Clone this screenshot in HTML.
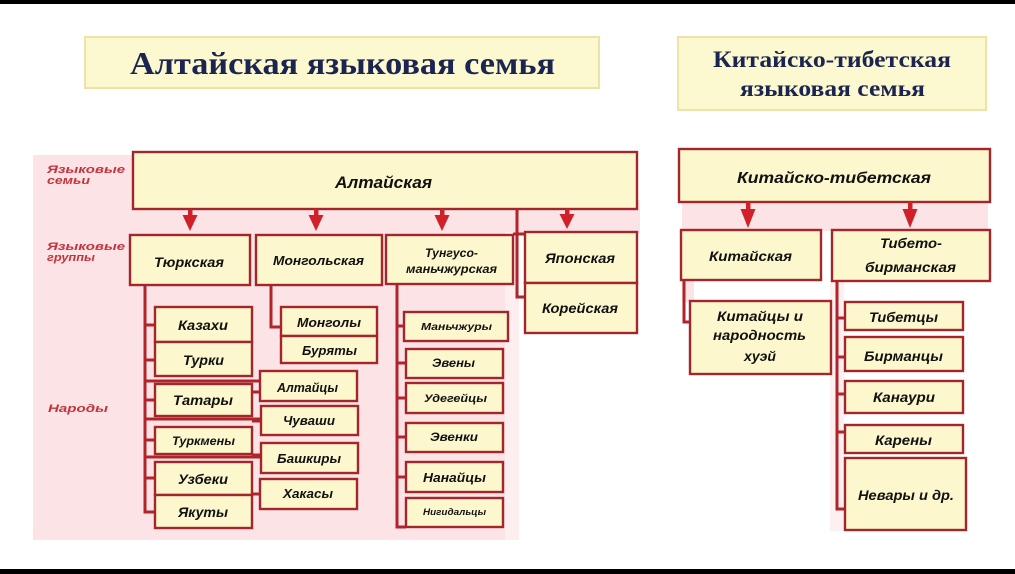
<!DOCTYPE html>
<html><head><meta charset="utf-8"><style>
html,body{margin:0;padding:0;background:#fff;}
svg{display:block;}
.n{font-family:"Liberation Sans",sans-serif;font-weight:bold;font-style:italic;fill:#111;}
.r{font-family:"Liberation Sans",sans-serif;font-weight:bold;font-style:italic;fill:#c4343d;font-size:11px;}
.t{font-family:"Liberation Serif",serif;font-weight:bold;fill:#1b2550;}
.b{fill:#fcf7cd;stroke:#a2262b;stroke-width:2.4;}
.l{stroke:#b0242a;stroke-width:3;fill:none;}
</style></head><body>
<svg width="1015" height="574" viewBox="0 0 1015 574" xmlns="http://www.w3.org/2000/svg">
<rect x="0" y="0" width="1015" height="574" fill="#fff"/>
<rect x="0" y="0" width="1015" height="4" fill="#000"/>
<rect x="0" y="569" width="1015" height="5" fill="#000"/>

<!-- titles -->
<rect x="85" y="37" width="514" height="51" fill="#fcf8cf" stroke="#ece3a4" stroke-width="2"/>
<text class="t" x="130" y="74" font-size="32" textLength="425" lengthAdjust="spacingAndGlyphs">Алтайская языковая семья</text>
<rect x="678" y="37" width="308" height="73" fill="#fcf8cf" stroke="#ece3a4" stroke-width="2"/>
<text class="t" x="713" y="67" font-size="23" textLength="238" lengthAdjust="spacingAndGlyphs">Китайско-тибетская</text>
<text class="t" x="740" y="96" font-size="23" textLength="185" lengthAdjust="spacingAndGlyphs">языковая семья</text>

<!-- pink backgrounds -->
<rect x="33" y="155" width="477" height="385" fill="#fbe3e6"/>
<rect x="505" y="200" width="135" height="33" fill="#fbe3e6"/>
<rect x="505" y="232" width="14" height="308" fill="#fdeef0"/>
<rect x="682" y="200" width="306" height="31" fill="#fbe3e6"/>
<rect x="682" y="280" width="12" height="22" fill="#fbe3e6"/>
<rect x="830" y="281" width="14" height="250" fill="#fdf0f1"/>

<!-- left labels -->
<text class="r" x="47" y="173" textLength="78" lengthAdjust="spacingAndGlyphs">Языковые</text>
<text class="r" x="47" y="184" textLength="43" lengthAdjust="spacingAndGlyphs">семьи</text>
<text class="r" x="47" y="250" textLength="78" lengthAdjust="spacingAndGlyphs">Языковые</text>
<text class="r" x="47" y="261" textLength="48" lengthAdjust="spacingAndGlyphs">группы</text>
<text class="r" x="48" y="412" textLength="60" lengthAdjust="spacingAndGlyphs">Народы</text>

<!-- connectors left -->
<path class="l" d="M145 285 V512 H155"/>
<path class="l" d="M145 325 H155 M145 360 H155 M145 400 H155 M145 440 H155 M145 478 H155"/>
<path class="l" d="M145 381 H260 M145 419 H261 M145 457 H261"/>
<path class="l" d="M252 392 H260 M252 421 H261 M252 455 H261 M252 494 H260"/>
<path class="l" d="M271 285 V327 H281"/>
<path class="l" d="M397 285 V527 H406"/>
<path class="l" d="M397 326 H404 M397 363 H406 M397 398 H406 M397 437 H406 M397 477 H406"/>
<path class="l" d="M517 209 V297 H525 M513 234 H525" stroke-width="3.5"/>

<!-- connectors right -->
<path class="l" d="M684 280 V322 H690"/>
<path class="l" d="M837 281 V509 H845 M837 318 H845 M837 357 H845 M837 394 H845 M837 432 H845"/>

<!-- big boxes -->
<rect class="b" x="133" y="152" width="504" height="57"/>
<text class="n" x="335" y="188" font-size="17" textLength="97" lengthAdjust="spacingAndGlyphs">Алтайская</text>
<rect class="b" x="679" y="149" width="311" height="53"/>
<text class="n" x="737" y="183" font-size="16" textLength="194" lengthAdjust="spacingAndGlyphs">Китайско-тибетская</text>

<!-- arrows -->
<g fill="#d0212a">
<rect x="188" y="209" width="4.5" height="8"/><polygon points="182.5,215 197.5,215 190,231"/>
<rect x="314" y="209" width="4.5" height="8"/><polygon points="308.5,215 323.5,215 316,231"/>
<rect x="440" y="209" width="4.5" height="8"/><polygon points="434.5,215 449.5,215 442,231"/>
<rect x="565" y="209" width="4.5" height="8"/><polygon points="559.5,214 574.5,214 567,229"/>
<rect x="746" y="202" width="4.5" height="9"/><polygon points="740.5,209 755.5,209 748,228"/>
<rect x="908" y="202" width="4.5" height="9"/><polygon points="902.5,209 917.5,209 910,228"/>
</g>

<!-- group boxes -->
<rect class="b" x="130" y="235" width="120" height="50"/>
<text class="n" x="154" y="267" font-size="14" textLength="70" lengthAdjust="spacingAndGlyphs">Тюркская</text>
<rect class="b" x="256" y="235" width="126" height="50"/>
<text class="n" x="273" y="265" font-size="13" textLength="91" lengthAdjust="spacingAndGlyphs">Монгольская</text>
<rect class="b" x="386" y="235" width="127" height="49"/>
<text class="n" x="425" y="257" font-size="12" textLength="53" lengthAdjust="spacingAndGlyphs">Тунгусо-</text>
<text class="n" x="406" y="273" font-size="12" textLength="91" lengthAdjust="spacingAndGlyphs">маньчжурская</text>
<rect class="b" x="525" y="232" width="112" height="51"/>
<text class="n" x="545" y="263" font-size="14" textLength="70" lengthAdjust="spacingAndGlyphs">Японская</text>
<rect class="b" x="525" y="283" width="112" height="50"/>
<text class="n" x="542" y="313" font-size="14" textLength="76" lengthAdjust="spacingAndGlyphs">Корейская</text>
<rect class="b" x="681" y="230" width="140" height="50"/>
<text class="n" x="709" y="261" font-size="14" textLength="83" lengthAdjust="spacingAndGlyphs">Китайская</text>
<rect class="b" x="832" y="230" width="158" height="51"/>
<text class="n" x="880" y="248" font-size="14" textLength="62" lengthAdjust="spacingAndGlyphs">Тибето-</text>
<text class="n" x="865" y="272" font-size="14" textLength="91" lengthAdjust="spacingAndGlyphs">бирманская</text>

<!-- Turkic peoples -->
<rect class="b" x="155" y="307" width="97" height="35"/>
<text class="n" x="178" y="330" font-size="14" textLength="50" lengthAdjust="spacingAndGlyphs">Казахи</text>
<rect class="b" x="155" y="342" width="97" height="34"/>
<text class="n" x="183" y="365" font-size="14" textLength="41" lengthAdjust="spacingAndGlyphs">Турки</text>
<rect class="b" x="155" y="384" width="97" height="32"/>
<text class="n" x="173" y="405" font-size="14" textLength="60" lengthAdjust="spacingAndGlyphs">Татары</text>
<rect class="b" x="155" y="427" width="97" height="27"/>
<text class="n" x="172" y="445" font-size="12" textLength="63" lengthAdjust="spacingAndGlyphs">Туркмены</text>
<rect class="b" x="155" y="462" width="97" height="33"/>
<text class="n" x="178" y="484" font-size="14" textLength="50" lengthAdjust="spacingAndGlyphs">Узбеки</text>
<rect class="b" x="155" y="495" width="97" height="33"/>
<text class="n" x="178" y="517" font-size="14" textLength="50" lengthAdjust="spacingAndGlyphs">Якуты</text>

<rect class="b" x="260" y="371" width="97" height="30"/>
<text class="n" x="277" y="392" font-size="13" textLength="61" lengthAdjust="spacingAndGlyphs">Алтайцы</text>
<rect class="b" x="261" y="406" width="97" height="29"/>
<text class="n" x="283" y="425" font-size="13" textLength="52" lengthAdjust="spacingAndGlyphs">Чуваши</text>
<rect class="b" x="261" y="443" width="97" height="30"/>
<text class="n" x="277" y="463" font-size="13" textLength="64" lengthAdjust="spacingAndGlyphs">Башкиры</text>
<rect class="b" x="260" y="479" width="97" height="30"/>
<text class="n" x="283" y="498" font-size="13" textLength="50" lengthAdjust="spacingAndGlyphs">Хакасы</text>

<!-- Mongol peoples -->
<rect class="b" x="281" y="307" width="96" height="29"/>
<text class="n" x="297" y="327" font-size="13" textLength="64" lengthAdjust="spacingAndGlyphs">Монголы</text>
<rect class="b" x="281" y="336" width="96" height="27"/>
<text class="n" x="302" y="355" font-size="13" textLength="55" lengthAdjust="spacingAndGlyphs">Буряты</text>

<!-- Tungus peoples -->
<rect class="b" x="404" y="312" width="104" height="29"/>
<text class="n" x="421" y="330" font-size="10" textLength="71" lengthAdjust="spacingAndGlyphs">Маньчжуры</text>
<rect class="b" x="406" y="349" width="97" height="29"/>
<text class="n" x="432" y="367" font-size="12" textLength="43" lengthAdjust="spacingAndGlyphs">Эвены</text>
<rect class="b" x="406" y="383" width="97" height="30"/>
<text class="n" x="424" y="402" font-size="11" textLength="63" lengthAdjust="spacingAndGlyphs">Удегейцы</text>
<rect class="b" x="406" y="423" width="97" height="29"/>
<text class="n" x="430" y="441" font-size="12" textLength="48" lengthAdjust="spacingAndGlyphs">Эвенки</text>
<rect class="b" x="406" y="462" width="97" height="30"/>
<text class="n" x="423" y="482" font-size="13" textLength="63" lengthAdjust="spacingAndGlyphs">Нанайцы</text>
<rect class="b" x="406" y="498" width="97" height="29"/>
<text class="n" x="423" y="515" font-size="9" textLength="63" lengthAdjust="spacingAndGlyphs">Нигидальцы</text>

<!-- Chinese -->
<rect class="b" x="690" y="301" width="141" height="73"/>
<text class="n" x="717" y="321" font-size="14" textLength="86" lengthAdjust="spacingAndGlyphs">Китайцы и</text>
<text class="n" x="713" y="340" font-size="14" textLength="93" lengthAdjust="spacingAndGlyphs">народность</text>
<text class="n" x="744" y="361" font-size="14" textLength="32" lengthAdjust="spacingAndGlyphs">хуэй</text>

<!-- Tibeto-Burman peoples -->
<rect class="b" x="845" y="302" width="118" height="28"/>
<text class="n" x="869" y="322" font-size="14" textLength="69" lengthAdjust="spacingAndGlyphs">Тибетцы</text>
<rect class="b" x="845" y="337" width="118" height="34"/>
<text class="n" x="864" y="361" font-size="14" textLength="79" lengthAdjust="spacingAndGlyphs">Бирманцы</text>
<rect class="b" x="845" y="381" width="118" height="32"/>
<text class="n" x="873" y="402" font-size="14" textLength="62" lengthAdjust="spacingAndGlyphs">Канаури</text>
<rect class="b" x="845" y="425" width="118" height="28"/>
<text class="n" x="875" y="445" font-size="14" textLength="57" lengthAdjust="spacingAndGlyphs">Карены</text>
<rect class="b" x="845" y="458" width="121" height="72"/>
<text class="n" x="858" y="500" font-size="14" textLength="96" lengthAdjust="spacingAndGlyphs">Невары и др.</text>
</svg>
</body></html>
